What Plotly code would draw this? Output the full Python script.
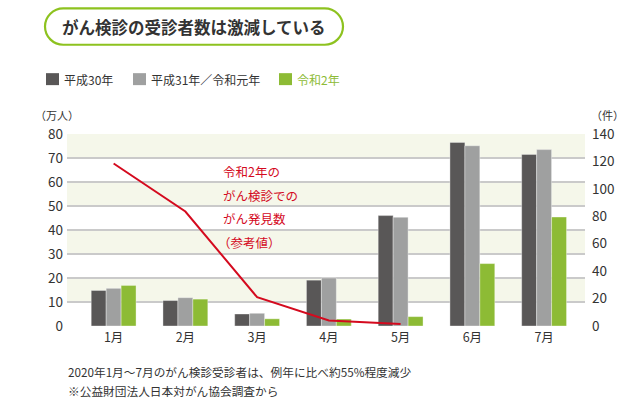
import plotly.graph_objects as go

months = ["1月", "2月", "3月", "4月", "5月", "6月", "7月"]
h30 = [14.8, 10.6, 5.0, 19.1, 46.0, 76.5, 71.5]
h31 = [15.7, 11.8, 5.3, 20.0, 45.3, 75.1, 73.5]
r2 = [16.9, 11.2, 3.0, 2.9, 3.9, 26.0, 45.4]
found_months = ["1月", "2月", "3月", "4月", "5月"]
found_r2 = [118.5, 83.5, 21.0, 4.0, 1.5]
left_ticks = [0, 10, 20, 30, 40, 50, 60, 70, 80]
right_ticks = [0, 20, 40, 60, 80, 100, 120, 140]
series_names = ["平成30年", "平成31年／令和元年", "令和2年"]

C_DARK = "#595757"
C_GRAY = "#9fa0a0"
C_GREEN = "#8dbb35"
C_RED = "#d40a1e"
C_TXT = "#333333"
C_GRID = "#cacaca"
C_BAND = "#f5f7ea"
FONT = "Noto Sans CJK JP"

# plot area in pixels
L, R, T, B = 67, 585, 133.5, 326
W, H = R - L, B - T


def px(x):
    return (x - L) / W


def py(y):
    return (B - y) / H


fig = go.Figure()
for name, vals, col in zip(series_names, [h30, h31, r2], [C_DARK, C_GRAY, C_GREEN]):
    fig.add_trace(go.Bar(x=months, y=vals, name=name, marker=dict(color=col, line=dict(width=0.6, color="rgba(255,255,255,0.6)")),
                         showlegend=False, yaxis="y"))
fig.add_trace(go.Scatter(x=found_months, y=found_r2, mode="lines", line=dict(color=C_RED, width=2),
                         yaxis="y2", showlegend=False))

shapes = []
# alternate bands
for lo in range(10, 80, 20):
    shapes.append(dict(type="rect", xref="paper", yref="y", x0=0, x1=1, y0=lo, y1=lo + 10,
                       fillcolor=C_BAND, line=dict(width=0), layer="below"))

# title rounded box
x0, x1, y0, y1 = 45, 343, 7.5, 44
r = (y1 - y0) / 2
k = 0.5523 * r
pts = [
    f"M{px(x0 + r)},{py(y0)}",
    f"L{px(x1 - r)},{py(y0)}",
    f"C{px(x1 - r + k)},{py(y0)} {px(x1)},{py(y0 + r - k)} {px(x1)},{py(y0 + r)}",
    f"C{px(x1)},{py(y1 - r + k)} {px(x1 - r + k)},{py(y1)} {px(x1 - r)},{py(y1)}",
    f"L{px(x0 + r)},{py(y1)}",
    f"C{px(x0 + r - k)},{py(y1)} {px(x0)},{py(y1 - r + k)} {px(x0)},{py(y1 - r)}",
    f"C{px(x0)},{py(y0 + r - k)} {px(x0 + r - k)},{py(y0)} {px(x0 + r)},{py(y0)}",
    "Z",
]
shapes.append(dict(type="path", xref="paper", yref="paper", path=" ".join(pts),
                   line=dict(color="#8dc21f", width=2.2), fillcolor="white"))

annotations = []


def ann(x, y, text, size, color, xanchor="left", bold=False):
    annotations.append(dict(x=px(x), y=py(y), xref="paper", yref="paper",
                            text=f"<b>{text}</b>" if bold else text, showarrow=False,
                            xanchor=xanchor, yanchor="middle",
                            font=dict(family=FONT, size=size, color=color)))


ann(194, 26, "がん検診の受診者数は激減している", 16.5, C_TXT, "center", bold=True)

# legend
leg = [(46, 62, series_names[0], C_DARK, C_TXT), (133, 149, series_names[1], C_GRAY, C_TXT),
       (279, 295, series_names[2], C_GREEN, C_GREEN)]
for sx, tx, name, col, tcol in leg:
    shapes.append(dict(type="rect", xref="paper", yref="paper", x0=px(sx), x1=px(sx + 13), y0=py(72.5), y1=py(84.5),
                       fillcolor=col, line=dict(width=0)))
    ann(tx, 78.5, name, 12, tcol)

ann(57, 114.5, "（万人）", 11, C_TXT, "center")
ann(607, 114.5, "（件）", 11, C_TXT, "center")

red_lines = ["令和2年の", "がん検診での", "がん発見数", "（参考値）"]
for i, t in enumerate(red_lines):
    xoff = 216 if t.startswith("（") else 221
    ann(xoff, 171 + 23.8 * i, t, 12.5, C_RED)

ann(66, 372, "2020年1月～7月のがん検診受診者は、例年に比べ約55%程度減少", 11.7, C_TXT)
ann(66, 391, "※公益財団法人日本対がん協会調査から", 11.7, C_TXT)

fig.update_layout(
    width=628, height=400,
    margin=dict(l=L, r=628 - R, t=T, b=400 - B, pad=0),
    paper_bgcolor="white", plot_bgcolor="white",
    barmode="group", bargap=0.375, bargroupgap=0.0,
    font=dict(family=FONT, color=C_TXT),
    xaxis=dict(range=[-0.65, 6.57], showgrid=False, zeroline=False, showline=False, ticks="",
               tickfont=dict(size=12.5, color=C_TXT, family=FONT), ticklabelstandoff=2),
    yaxis=dict(range=[0, 80], tickvals=left_ticks, showgrid=True, gridcolor=C_GRID, gridwidth=2,
               zeroline=False, showline=False, ticks="", tickfont=dict(size=13.5, color=C_TXT, family=FONT),
               ticklabelstandoff=3),
    yaxis2=dict(range=[0, 140], tickvals=right_ticks, overlaying="y", side="right", showgrid=False,
                zeroline=False, showline=False, ticks="", tickfont=dict(size=13.5, color=C_TXT, family=FONT),
                ticklabelstandoff=6),
    shapes=shapes, annotations=annotations, showlegend=False,
)

fig.write_html("out.html")
